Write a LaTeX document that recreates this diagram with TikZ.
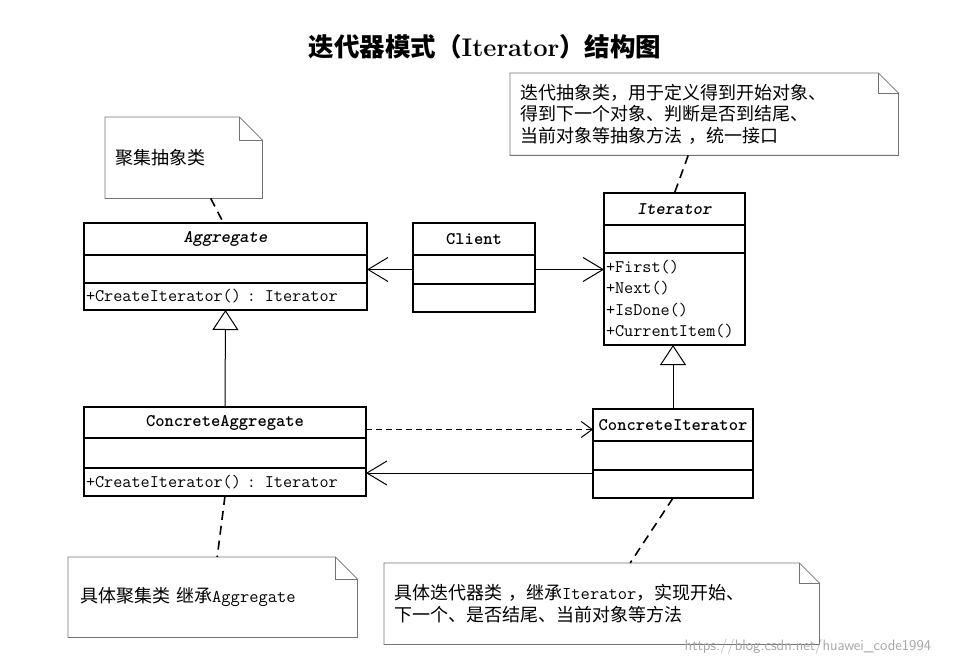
\documentclass[tikz,border=0pt]{standalone}
\usepackage{fontspec}
\newfontfamily\cjkfont{Noto Sans CJK SC}
\usetikzlibrary{positioning,arrows.meta}

\newcommand{\umlfont}{\fontsize{17.7}{21.5}\selectfont\ttfamily}
\newcommand{\notefont}{\fontsize{18}{21.5}\selectfont\cjkfont}

\begin{document}
\begin{tikzpicture}[x=1pt,y=-1pt,
    cls/.style={draw, line width=1.1pt, outer sep=0pt, inner xsep=2pt, inner ysep=2pt, font=\umlfont},
    clshead/.style={cls, align=center, minimum height=32pt},
    clspart/.style={cls, align=left, below=0pt of #1},
    note/.style={anchor=north west, inner xsep=10pt, align=left, font=\notefont},
    noteline/.style={draw=black!55, line width=0.8pt},
    notelink/.style={line width=1.6pt, dash pattern=on 9pt off 6pt},
    assoc/.style={-{Straight Barb[length=20pt,width=24pt]}, line width=1pt},
    depend/.style={-{Straight Barb[length=11pt,width=16pt]}, line width=1pt, dash pattern=on 6pt off 4pt},
    inherit/.style={-{Triangle[open,length=20pt,width=26pt]}, line width=1pt}]
  \useasboundingbox (0,0) rectangle (956,666);

  \node[font=\fontsize{25.5}{25.5}\selectfont\cjkfont\bfseries] (title) at (485,47)
    {迭代器模式（{\rmfamily\bfseries Iterator}）结构图};

  % classes
  \node[clshead, text width=279pt] (agg) at (225.5,239) {\textbf{\textit{Aggregate}}};
  \node[clspart=agg, text width=279pt, minimum height=28pt] (aggA) {};
  \node[clspart=aggA, text width=279pt, minimum height=27pt] (aggM) {+CreateIterator() : Iterator};

  \node[clshead, text width=118pt] (client) at (474,239) {\textbf{Client}};
  \node[clspart=client, text width=118pt, minimum height=29pt] (clientA) {};
  \node[clspart=clientA, text width=118pt, minimum height=28pt] (clientM) {};

  \node[clshead, text width=137pt] (it) at (674.5,209) {\textbf{\textit{Iterator}}};
  \node[clspart=it, text width=137pt, minimum height=28pt] (itA) {};
  \node[clspart=itA, text width=137pt, minimum height=92pt] (itM)
    {+First()\\+Next()\\+IsDone()\\+CurrentItem()};

  \node[clshead, text width=278pt, minimum height=31pt] (conAgg) at (225,422.5) {\textbf{ConcreteAggregate}};
  \node[clspart=conAgg, text width=278pt, minimum height=30pt] (conAggA) {};
  \node[clspart=conAggA, text width=278pt, minimum height=28pt] (conAggM) {+CreateIterator() : Iterator};

  \node[clshead, text width=156pt] (conIt) at (673,425) {\textbf{ConcreteIterator}};
  \node[clspart=conIt, text width=156pt, minimum height=29pt] (conItA) {};
  \node[clspart=conItA, text width=156pt, minimum height=28pt] (conItM) {};

  % notes
  \node[note, text width=137pt, minimum height=81pt] (aggNote) at (105,117) {聚集抽象类};
  \node[note, text width=368pt, minimum height=82pt] (itNote) at (510,73)
    {迭代抽象类，用于定义得到开始对象、\\得到下一个对象、判断是否到结尾、\\当前对象等抽象方法 ，统一接口};
  \node[note, inner xsep=12pt, text width=265pt, minimum height=80pt] (caNote) at (68,557)
    {具体聚集类 继承{\ttfamily Aggregate}};
  \node[note, text width=415pt, minimum height=81pt] (ciNote) at (384,563)
    {具体迭代器类 ，继承{\ttfamily Iterator}，实现开始、\\下一个、是否结尾、当前对象等方法};
  \foreach \n/\f in {aggNote/23pt, itNote/20pt, caNote/22pt, ciNote/20pt} {
    \draw[noteline] (\n.north west) -- ([xshift=-\f]\n.north east) -- ([yshift=-\f]\n.north east)
      -- (\n.south east) -- (\n.south west) -- cycle;
    \draw[noteline] ([xshift=-\f]\n.north east) |- ([yshift=-\f]\n.north east);
  }

  % relations
  \draw[assoc] (clientA.west) -- (clientA.west -| aggA.east);
  \draw[assoc] (clientA.east) -- (clientA.east -| itM.west);
  \draw[depend] ([yshift=-7pt]conAgg.east) -- ([yshift=-7pt]conAgg.east -| conIt.west);
  \draw[assoc] ([yshift=11pt]conItM.west) -- ([yshift=11pt]conItM.west -| conAggM.east);
  \draw[inherit] (conAgg.north) -- (aggM.south);
  \draw[inherit] (conIt.north) -- (conIt.north |- itM.south);

  \draw[notelink] ([xshift=27pt]aggNote.south) -- ([xshift=-2pt]agg.north);
  \draw[notelink] ([xshift=-16pt]itNote.south) -- (it.north);
  \draw[notelink] (conAggM.south) -- ([xshift=4.5pt]caNote.north);
  \draw[notelink] (conItM.south) -- ([xshift=28.5pt]ciNote.north);

  \node[font=\sffamily\fontsize{15}{15}\selectfont, text=black!35] (mark) at (808,647)
    {https://blog.csdn.net/huawei\_code1994};
\end{tikzpicture}
\end{document}
